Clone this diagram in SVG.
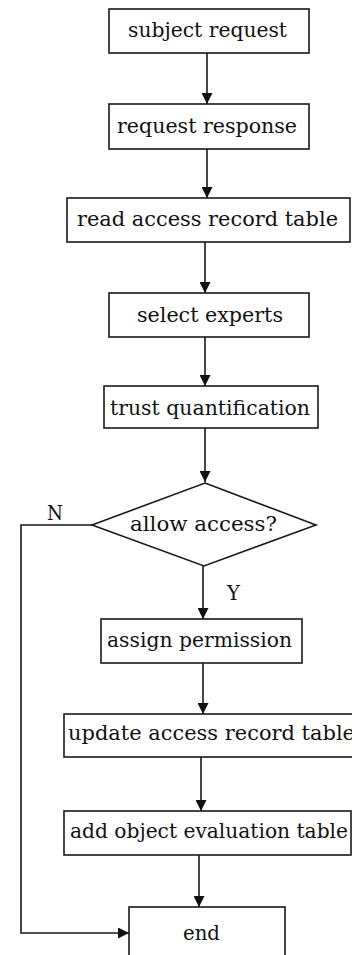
<svg xmlns="http://www.w3.org/2000/svg" width="352" height="955" viewBox="0 0 352 955">
  <defs>
    <marker id="arrow" viewBox="0 0 11 11" refX="11" refY="5.5" markerWidth="11" markerHeight="11" markerUnits="userSpaceOnUse" orient="auto">
      <path d="M0,0 L11,5.5 L0,11 Z" fill="#111"/>
    </marker>
    <style>
      .box { fill: #fff; stroke: #1a1a1a; stroke-width: 1.6; }
      .lbl { font-family: "DejaVu Serif", "Liberation Serif", serif; font-size: 20px; fill: #111; }
      .edge { fill: none; stroke: #1a1a1a; stroke-width: 1.6; marker-end: url(#arrow); }
    </style>
  </defs>
  <rect width="352" height="955" fill="#fff"/>

  <!-- connectors -->
  <g id="connectors">
    <path class="edge" d="M207,53 V104"/>
    <path class="edge" d="M207,149 V198"/>
    <path class="edge" d="M205,242 V293"/>
    <path class="edge" d="M205,337 V386"/>
    <path class="edge" d="M205,428 V482"/>
    <path class="edge" d="M203,566 V619"/>
    <path class="edge" d="M203,663 V714"/>
    <path class="edge" d="M201,757 V811"/>
    <path class="edge" d="M199,855 V907"/>
    <path class="edge" d="M92,525 H21 V933 H129"/>
    <text class="lbl" x="47" y="520" textLength="16" lengthAdjust="spacingAndGlyphs">N</text>
    <text class="lbl" x="227" y="600" textLength="13" lengthAdjust="spacingAndGlyphs">Y</text>
  </g>

  <g id="subject-request">
    <rect class="box" x="109" y="9" width="200" height="44"/>
    <text class="lbl" x="128" y="37" textLength="159" lengthAdjust="spacingAndGlyphs">subject request</text>
  </g>
  <g id="request-response">
    <rect class="box" x="109" y="104" width="200" height="45"/>
    <text class="lbl" x="117" y="133" textLength="180" lengthAdjust="spacingAndGlyphs">request response</text>
  </g>
  <g id="read-access-record-table">
    <rect class="box" x="67" y="198" width="283" height="44"/>
    <text class="lbl" x="77" y="226" textLength="261" lengthAdjust="spacingAndGlyphs">read access record table</text>
  </g>
  <g id="select-experts">
    <rect class="box" x="109" y="293" width="200" height="44"/>
    <text class="lbl" x="137" y="322" textLength="146" lengthAdjust="spacingAndGlyphs">select experts</text>
  </g>
  <g id="trust-quantification">
    <rect class="box" x="104" y="386" width="214" height="42"/>
    <text class="lbl" x="110" y="415" textLength="200" lengthAdjust="spacingAndGlyphs">trust quantification</text>
  </g>
  <g id="allow-access">
    <polygon class="box" points="205,483 316,525 204,566 92,525"/>
    <text class="lbl" x="130" y="531" textLength="147" lengthAdjust="spacingAndGlyphs">allow access?</text>
  </g>
  <g id="assign-permission">
    <rect class="box" x="101" y="619" width="201" height="44"/>
    <text class="lbl" x="107" y="647" textLength="185" lengthAdjust="spacingAndGlyphs">assign permission</text>
  </g>
  <g id="update-access-record-table">
    <rect class="box" x="64" y="714" width="292" height="43"/>
    <text class="lbl" x="68" y="740" textLength="287" lengthAdjust="spacingAndGlyphs">update access record table</text>
  </g>
  <g id="add-object-evaluation-table">
    <rect class="box" x="64" y="811" width="287" height="44"/>
    <text class="lbl" x="70" y="838" textLength="278" lengthAdjust="spacingAndGlyphs">add object evaluation table</text>
  </g>
  <g id="end">
    <rect class="box" x="129" y="907" width="156" height="60"/>
    <text class="lbl" x="183" y="940" textLength="37" lengthAdjust="spacingAndGlyphs">end</text>
  </g>
</svg>
